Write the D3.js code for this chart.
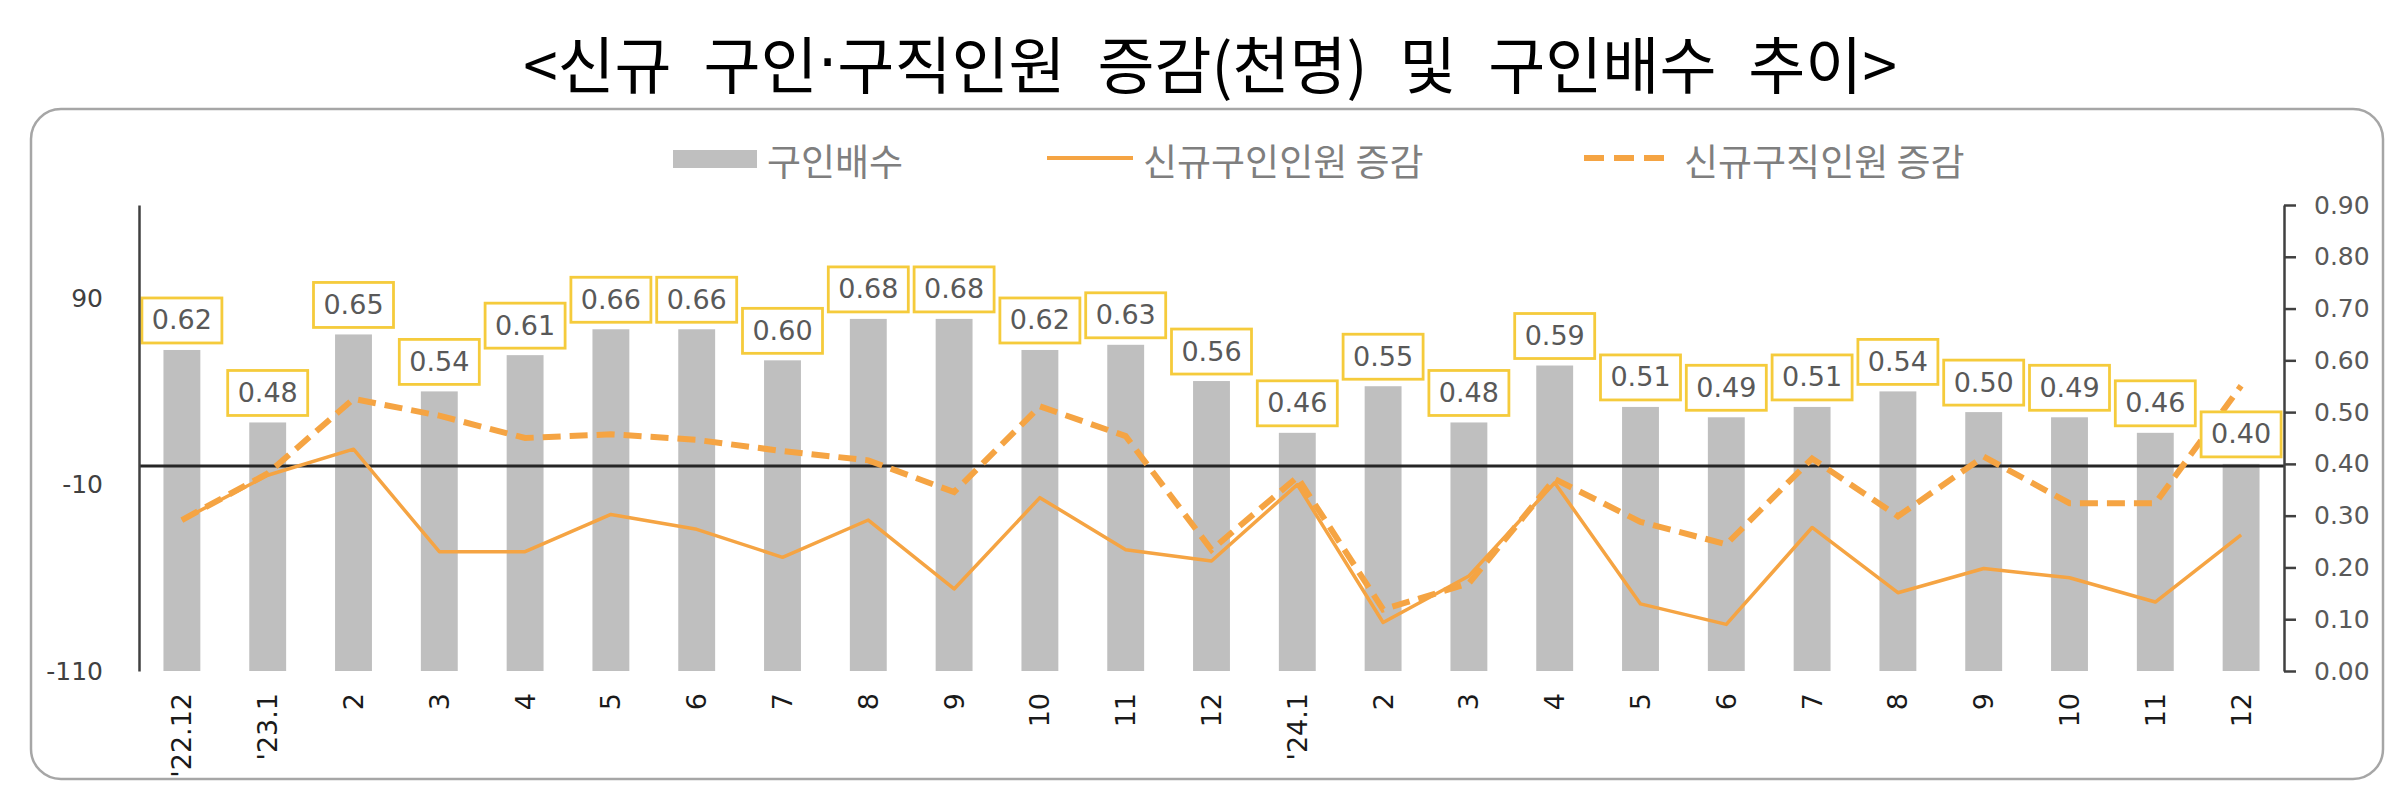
<!DOCTYPE html>
<html>
<head>
<meta charset="utf-8">
<script src="https://cdn.jsdelivr.net/npm/d3@7"></script>
<style>
  body { margin: 0; background: #fff; }
  svg { display: block; }
</style>
</head>
<body>
<svg id="chart" width="2405" height="800"></svg>
<script>
// month labels (x axis), several repeat so the scale runs on the index
var months = ["'22.12", "'23.1", "2", "3", "4", "5", "6", "7", "8", "9", "10", "11", "12",
              "'24.1", "2", "3", "4", "5", "6", "7", "8", "9", "10", "11", "12"];
// 구인배수 (right axis)
var ratio = [0.62, 0.48, 0.65, 0.54, 0.61, 0.66, 0.66, 0.60, 0.68, 0.68, 0.62, 0.63, 0.56,
             0.46, 0.55, 0.48, 0.59, 0.51, 0.49, 0.51, 0.54, 0.50, 0.49, 0.46, 0.40];
// 신규구인인원 증감, 천명 (left axis)
var offers = [-29, -5, 9, -46, -46, -26, -34, -49, -29, -66, -17, -45, -51,
              -10, -84, -59, -9, -74, -85, -33, -68, -55, -60, -73, -37];
// 신규구직인원 증감, 천명 (left axis)
var seekers = [-29, -4, 36, 27, 15, 17, 14, 8, 3, -14, 32, 16, -45,
               -6, -77, -63, -7, -30, -42, 4, -27, 5, -20, -20, 43];
var leftTicks = [-110, -10, 90];
var rightTicks = [0, 0.1, 0.2, 0.3, 0.4, 0.5, 0.6, 0.7, 0.8, 0.9];
var legendNames = ["구인배수", "신규구인인원 증감", "신규구직인원 증감"];

var svg = d3.select("#chart"),
    orange = "#F5A443",
    kor = "'Noto Sans CJK KR', sans-serif",
    num = "'DejaVu Sans', Verdana, sans-serif";

var plot = { left: 139, right: 2284, top: 205, bottom: 671 };

// title (middle dot set in a latin font so it stays narrow)
var title = svg.append("text")
    .attr("x", 1210).attr("y", 62)
    .attr("text-anchor", "middle")
    .attr("dominant-baseline", "central")
    .style("font-family", kor).style("font-size", "62px").style("word-spacing", "18px")
    .attr("fill", "#000");
title.append("tspan").text("<신규 구인");
title.append("tspan").style("font-family", num).text("·");
title.append("tspan").text("구직인원 증감(천명) 및 구인배수 추이>");

// rounded frame
svg.append("rect")
    .attr("x", 31).attr("y", 109).attr("width", 2352).attr("height", 670)
    .attr("rx", 30).attr("ry", 30)
    .attr("fill", "none").attr("stroke", "#a6a6a6").attr("stroke-width", 2.5);

var x = d3.scaleBand()
    .domain(d3.range(months.length))
    .range([plot.left, plot.right])
    .paddingInner(0.57).paddingOuter(0.285);

var yL = d3.scaleLinear().domain([-110, 140]).range([plot.bottom, plot.top]);
var yR = d3.scaleLinear().domain([0, 0.9]).range([plot.bottom, plot.top]);

// bars
svg.append("g").selectAll("rect")
    .data(ratio)
    .enter().append("rect")
    .attr("x", function(d, i) { return x(i); })
    .attr("y", function(d) { return yR(d); })
    .attr("width", x.bandwidth())
    .attr("height", function(d) { return yR(0) - yR(d); })
    .attr("fill", "#bfbfbf");

// zero line of the left axis
svg.append("line")
    .attr("x1", plot.left).attr("x2", plot.right)
    .attr("y1", yL(0)).attr("y2", yL(0))
    .attr("stroke", "#262626").attr("stroke-width", 3);

// lines
var line = function(arr) {
    return d3.line()
        .x(function(d, i) { return x(i) + x.bandwidth() / 2; })
        .y(function(d) { return yL(d); })(arr);
};

svg.append("path")
    .attr("d", line(offers))
    .attr("fill", "none").attr("stroke", orange).attr("stroke-width", 3.5)
    .attr("stroke-linejoin", "round");

svg.append("path")
    .attr("d", line(seekers))
    .attr("fill", "none").attr("stroke", orange).attr("stroke-width", 6)
    .attr("stroke-dasharray", "18,9");

// value labels on the bars
var lab = svg.append("g").selectAll("g")
    .data(ratio)
    .enter().append("g")
    .attr("transform", function(d, i) {
        return "translate(" + (x(i) + x.bandwidth() / 2) + "," + (yR(d) - 8 - 22) + ")";
    });

lab.append("rect")
    .attr("x", -40).attr("y", -22).attr("width", 80).attr("height", 45)
    .attr("fill", "#fff").attr("stroke", "#F5CB3C").attr("stroke-width", 2.8);

lab.append("text")
    .attr("text-anchor", "middle")
    .attr("dominant-baseline", "central")
    .style("font-family", num).style("font-size", "27px").attr("fill", "#595959")
    .text(function(d) { return d3.format(".2f")(d); });

// left axis (plain hyphen minus, as in the source)
var axL = svg.append("g")
    .attr("transform", "translate(" + plot.left + ",0)")
    .call(d3.axisLeft(yL).tickValues(leftTicks).tickFormat(function(d) { return String(d); })
        .tickSize(0).tickPadding(36));
axL.select(".domain").attr("stroke", "#404040").attr("stroke-width", 2.5);
axL.selectAll("text").style("font-family", num).style("font-size", "25px").attr("fill", "#404040");

// right axis
var axR = svg.append("g")
    .attr("transform", "translate(" + plot.right + ",0)")
    .call(d3.axisRight(yR).tickValues(rightTicks).tickFormat(d3.format(".2f")).tickSize(12).tickSizeOuter(0).tickPadding(18));
axR.select(".domain").attr("stroke", "#404040").attr("stroke-width", 2.5);
axR.selectAll("line").attr("stroke", "#404040").attr("stroke-width", 2.5);
axR.selectAll("text").style("font-family", num).style("font-size", "25px").attr("fill", "#595959");

// x axis labels, rotated
var axX = svg.append("g")
    .attr("transform", "translate(0," + plot.bottom + ")")
    .call(d3.axisBottom(x).tickFormat(function(i) { return months[i]; }).tickSize(0));
axX.select(".domain").remove();
axX.selectAll("text")
    .attr("transform", "rotate(-90)")
    .attr("x", -22).attr("y", 0).attr("dy", null)
    .attr("text-anchor", "end")
    .attr("dominant-baseline", "central")
    .style("font-family", num).style("font-size", "27px").attr("fill", "#1a1a1a");

// legend
var leg = svg.append("g").style("font-family", kor).style("font-size", "37px");
leg.append("rect").attr("x", 673).attr("y", 150).attr("width", 84).attr("height", 18).attr("fill", "#bfbfbf");
leg.append("line").attr("x1", 1047).attr("x2", 1133).attr("y1", 158).attr("y2", 158)
    .attr("stroke", orange).attr("stroke-width", 4);
leg.append("line").attr("x1", 1584).attr("x2", 1665).attr("y1", 158).attr("y2", 158)
    .attr("stroke", orange).attr("stroke-width", 6).attr("stroke-dasharray", "20,10");
[767, 1143, 1684].forEach(function(px, i) {
    leg.append("text")
        .attr("x", px).attr("y", 160)
        .attr("dominant-baseline", "central")
        .attr("fill", "#7f7f7f")
        .text(legendNames[i]);
});
</script>
</body>
</html>
